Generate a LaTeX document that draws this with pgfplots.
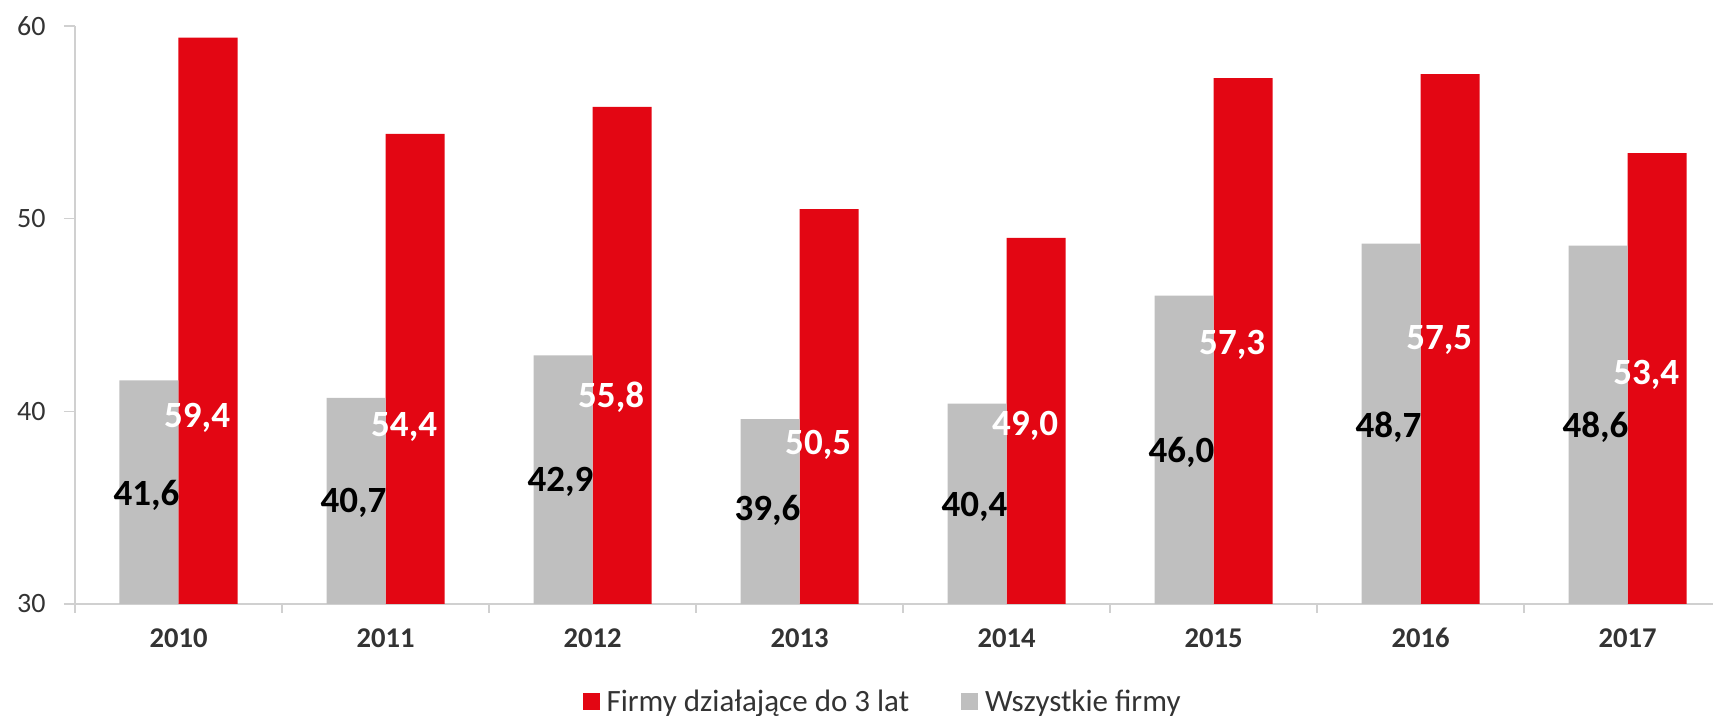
\documentclass[border=0pt]{standalone}
\usepackage{pgfplots}
\pgfplotsset{compat=1.18}
\usepackage{pgfplotstable}
\usepackage{fontspec}
\setmainfont{Carlito}

\definecolor{barred}{HTML}{E30613}
\definecolor{bargray}{HTML}{BFBFBF}
\definecolor{axisgray}{HTML}{D0D0D0}
\definecolor{txtgray}{HTML}{333333}

% x = category, g = Wszystkie firmy, r = Firmy do 3 lat, gly/rly = label heights
\pgfplotstableread{
x g    r    gly   rly
0 41.6 59.4 35.66 39.65
1 40.7 54.4 35.24 39.19
2 42.9 55.8 36.33 40.74
3 39.6 50.5 34.88 38.25
4 40.4 49.0 35.03 39.24
5 46.0 57.3 37.89 43.44
6 48.7 57.5 39.19 43.70
7 48.6 53.4 39.19 41.88
}\data

\begin{document}
\begin{tikzpicture}
  \begin{axis}[
      scale only axis, width=819pt, height=289pt,
      xmin=-0.5, xmax=7.413, ymin=30, ymax=60,
      axis lines*=left,
      axis line style={draw=axisgray, line width=0.6pt},
      ytick={30,40,50,60},
      xtick={0,...,7},
      xticklabels={2010,2011,2012,2013,2014,2015,2016,2017},
      minor xtick={-0.5,0.5,...,6.5},
      tick align=outside,
      major tick length=5.5pt, minor tick length=4.5pt,
      every tick/.style={draw=axisgray, line width=0.6pt},
      every major x tick/.append style={draw=none},
      /pgf/number format/assume math mode=true,
      yticklabel style={font=\fontsize{14}{16}\selectfont, text=txtgray, anchor=east, inner sep=0pt, xshift=-9pt},
      xticklabel style={font=\bfseries\fontsize{14.3}{16}\selectfont, text=txtgray, anchor=north, inner sep=0pt, yshift=-6.5pt},
      legend columns=2,
      legend cell align=left,
      legend style={at={(0.4936,0)}, anchor=center, yshift=-49pt, draw=none,
        inner sep=0pt, fill=none,
        font=\fontsize{15.5}{18}\selectfont, text=txtgray,
        /tikz/every even column/.append style={column sep=24pt}},
    ]
    \addplot[ybar, bar width=29.5pt, bar shift=14.75pt, fill=barred, draw=none,
      legend image code/.code={\fill[barred] (0pt,-4.25pt) rectangle (8.5pt,4.25pt); \path (10pt,0pt);}]
      table[x=x, y=r]{\data};
    \addlegendentry{Firmy działające do 3 lat}
    \addplot[ybar, bar width=29.5pt, bar shift=-14.75pt, fill=bargray, draw=none,
      legend image code/.code={\fill[bargray] (0pt,-4.25pt) rectangle (8.5pt,4.25pt); \path (10pt,0pt);}]
      table[x=x, y=g]{\data};
    \addlegendentry{Wszystkie firmy}

    % value labels
    \addplot[draw=none, mark=none, forget plot, point meta=\thisrow{g},
      nodes near coords={\pgfmathprintnumber[fixed,fixed zerofill,precision=1,use comma,assume math mode=true]{\pgfplotspointmeta}},
      every node near coord/.append style={anchor=center, inner sep=0pt, text=black,
        font=\bfseries\fontsize{18.5}{20}\selectfont}]
      table[x expr=\thisrow{x}-0.155, y=gly]{\data};
    \addplot[draw=none, mark=none, forget plot, point meta=\thisrow{r},
      nodes near coords={\pgfmathprintnumber[fixed,fixed zerofill,precision=1,use comma,assume math mode=true]{\pgfplotspointmeta}},
      every node near coord/.append style={anchor=center, inner sep=0pt, text=white,
        font=\bfseries\fontsize{18.5}{20}\selectfont}]
      table[x expr=\thisrow{x}+0.09, y=rly]{\data};

    \coordinate (o) at (axis cs:-0.5,30);
  \end{axis}
  \pgfresetboundingbox
  \path (o) ++(-37.5pt,-56pt) rectangle ++(856.5pt,358pt);
\end{tikzpicture}
\end{document}
